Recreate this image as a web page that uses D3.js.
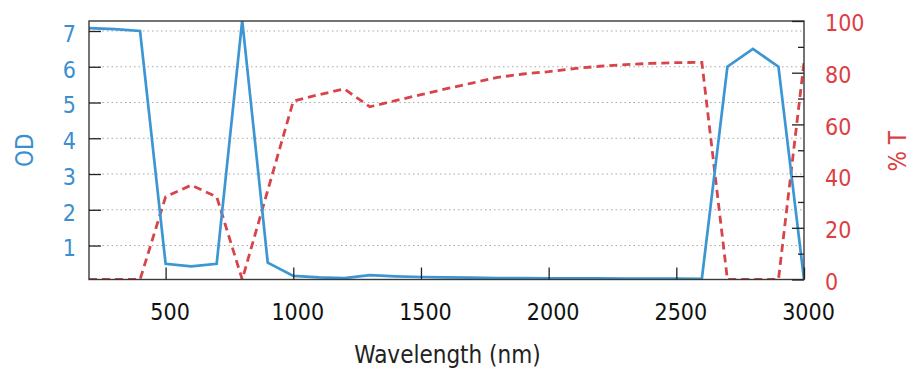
<!DOCTYPE html>
<html>
<head>
<meta charset="utf-8">
<script src="https://cdn.jsdelivr.net/npm/d3@7"></script>
<style>
  html, body { margin: 0; padding: 0; background: #fff; }
  svg text { font-family: "DejaVu Sans Condensed", "DejaVu Sans", sans-serif; font-stretch: condensed; }
</style>
</head>
<body>
<svg id="chart" width="918" height="378"></svg>
<script>
// ---- data ----
const wavelength = [200,300,400,500,600,700,800,900,1000,1100,1200,1300,1400,1500,1600,1700,1800,1900,2000,2100,2200,2300,2400,2500,2600,2700,2800,2900,3000];
const odValues   = [7.08,7.05,7.0,0.49,0.42,0.49,7.3,0.52,0.15,0.11,0.09,0.17,0.14,0.12,0.11,0.10,0.09,0.09,0.08,0.08,0.08,0.075,0.075,0.075,0.07,6.0,6.5,6.0,0.05];
const transValues = [0,0,0,32,36.5,32,0,34.5,69,71.5,73.7,66.8,69.2,71.5,73.8,76,78.2,79.5,80.4,81.6,82.5,83.1,83.6,83.9,84,0,0,0,84];
const xTicks  = [500,1000,1500,2000,2500,3000];
const odTicks = [1,2,3,4,5,6,7];
const tMajorTicks = [0,20,40,60,80,100];
const tMinorTicks = [10,30,50,70,90];
const xLabel = "Wavelength (nm)";
const odLabel = "OD";
const tLabel = "% T";

// ---- layout ----
const L = 89, R = 804, T = 21, B = 279.5;
const blue = "#3c96d3", red = "#d9434a";
const blueText = "#3b8fcf", redText = "#dc3e42";

const svg = d3.select("#chart");
const x = d3.scaleLinear().domain([200, 3000]).range([L, R]);
const yOD = d3.scaleLinear().domain([0.05, 7.28]).range([B, T]);
const yT = d3.scaleLinear().domain([0, 100]).range([B, T]);

// grid (dotted, at OD ticks)
svg.append("g").selectAll("line").data(odTicks).join("line")
  .attr("x1", L).attr("x2", R)
  .attr("y1", d => yOD(d)).attr("y2", d => yOD(d))
  .attr("stroke", "#a8a8a8").attr("stroke-width", 1)
  .attr("stroke-dasharray", "1.5,3");

// clip
svg.append("clipPath").attr("id", "clip").append("rect")
  .attr("x", L).attr("y", T).attr("width", R - L).attr("height", B - T);

const pts = wavelength.map((w, i) => ({w, od: odValues[i], t: transValues[i]}));

svg.append("path").datum(pts)
  .attr("clip-path", "url(#clip)")
  .attr("fill", "none").attr("stroke", red).attr("stroke-width", 2.8)
  .attr("stroke-dasharray", "8,5")
  .attr("d", d3.line().x(d => x(d.w)).y(d => yT(d.t)));

svg.append("path").datum(pts)
  .attr("clip-path", "url(#clip)")
  .attr("fill", "none").attr("stroke", blue).attr("stroke-width", 2.7)
  .attr("stroke-linejoin", "miter")
  .attr("d", d3.line().x(d => x(d.w)).y(d => yOD(d.od)));

// border
svg.append("rect").attr("x", L).attr("y", T).attr("width", R - L).attr("height", B - T)
  .attr("fill", "none").attr("stroke", "#3a3a3a").attr("stroke-width", 1.4);

// axes (inward ticks)
const fmt = d3.format("d");
const gx = svg.append("g").attr("transform", `translate(0,${B})`)
  .call(d3.axisBottom(x).tickValues(xTicks).tickFormat(fmt).tickSizeInner(-12).tickSizeOuter(0).tickPadding(0));
gx.select(".domain").remove();
gx.selectAll(".tick line").attr("stroke", "#222").attr("stroke-width", 1.3);
gx.selectAll(".tick text").attr("font-size", 23).attr("fill", "#111")
  .attr("dx", 4).attr("y", 40).attr("dy", 0);

const gl = svg.append("g").attr("transform", `translate(${L},0)`)
  .call(d3.axisLeft(yOD).tickValues(odTicks).tickFormat(fmt).tickSizeInner(-12).tickSizeOuter(0).tickPadding(13));
gl.select(".domain").remove();
gl.selectAll(".tick line").attr("stroke", "#222").attr("stroke-width", 1.3);
gl.selectAll(".tick text").attr("font-size", 23).attr("fill", blueText).attr("dy", "0.45em");

const gr = svg.append("g").attr("transform", `translate(${R},0)`)
  .call(d3.axisRight(yT).tickValues(tMajorTicks).tickFormat(fmt).tickSizeInner(-12).tickSizeOuter(0).tickPadding(21));
gr.select(".domain").remove();
gr.selectAll(".tick line").attr("stroke", "#222").attr("stroke-width", 1.3);
gr.selectAll(".tick text").attr("font-size", 23).attr("fill", redText).attr("dy", "0.42em");

const grm = svg.append("g").attr("transform", `translate(${R},0)`)
  .call(d3.axisRight(yT).tickValues(tMinorTicks).tickSizeInner(-6).tickSizeOuter(0).tickFormat(""));
grm.select(".domain").remove();
grm.selectAll(".tick line").attr("stroke", "#222").attr("stroke-width", 1.3);

// axis titles
svg.append("text").attr("x", (L + R) / 2 + 1).attr("y", 363)
  .attr("text-anchor", "middle").attr("font-size", 24).attr("fill", "#222").text(xLabel);
svg.append("text").attr("transform", `translate(33,${(T + B) / 2}) rotate(-90)`)
  .attr("text-anchor", "middle").attr("font-size", 24).attr("fill", blueText).text(odLabel);
svg.append("text").attr("transform", `translate(906,${(T + B) / 2 + 1}) rotate(-90)`)
  .attr("text-anchor", "middle").attr("font-size", 24).attr("fill", redText).text(tLabel);
</script>
</body>
</html>
